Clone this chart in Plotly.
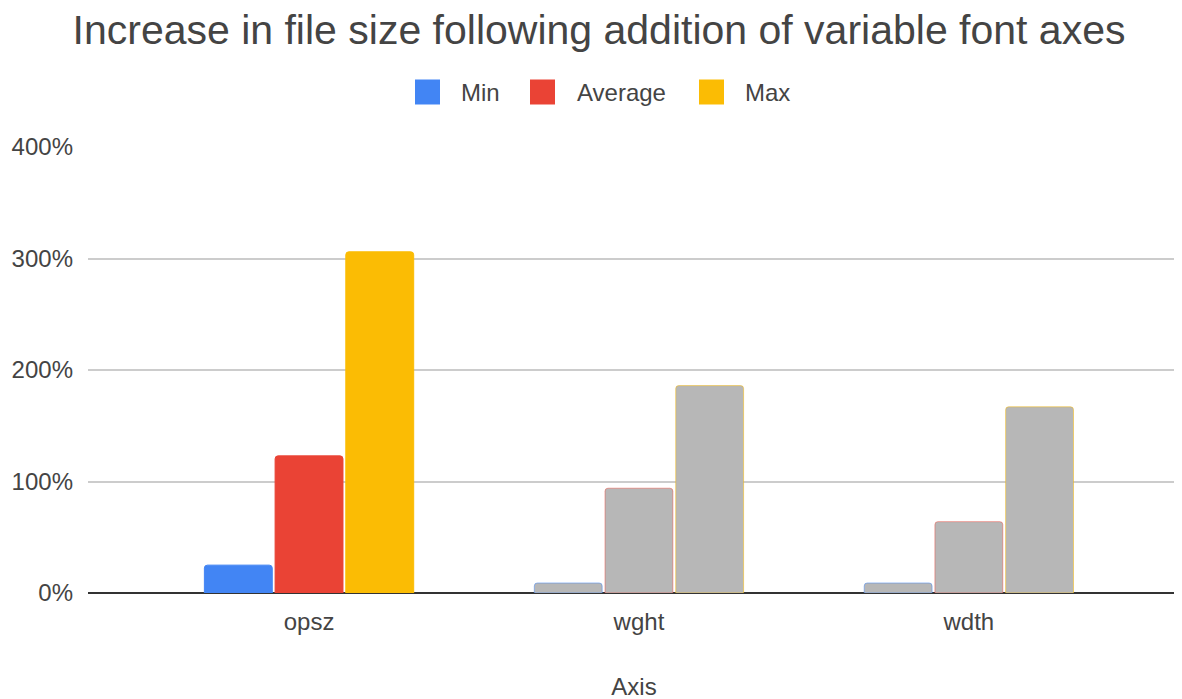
import plotly.graph_objects as go

categories = ["opsz", "wght", "wdth"]
series_names = ["Min", "Average", "Max"]
min_vals = [25, 9, 9]
avg_vals = [123, 94, 64]
max_vals = [306, 186, 167]
tick_vals = [0, 100, 200, 300, 400]
tick_text = ["0%", "100%", "200%", "300%", "400%"]

colors = ["#4285f4", "#ea4335", "#fbbc04"]
faint = ["rgba(66,133,244,0.5)", "rgba(234,67,53,0.45)", "rgba(251,188,4,0.5)"]
grey = "#b7b7b7"

W, H = 1182, 699
ML, MR, MT, MB = 80, 10, 139, 114
PW, PH = W - ML - MR, H - MT - MB


def px2x(px):
    return (px - ML) / PW


def px2y(py):
    return (H - MB - py) / PH


fig = go.Figure()
for name, vals, c, fc in zip(series_names, [min_vals, avg_vals, max_vals], colors, faint):
    fig.add_trace(go.Bar(
        x=categories, y=vals, name=name, showlegend=False,
        marker=dict(color=[c, grey, grey],
                    line=dict(color=[c, fc, fc], width=1)),
        hoverinfo="x+y+name",
    ))

# custom legend (large square swatches)
legend_sq_x = [407, 522, 691]
legend_txt_x = [451, 567, 735]
sq = 25
leg_cy = 84
shapes = []
annotations = []
for name, c, sx, tx in zip(series_names, colors, legend_sq_x, legend_txt_x):
    shapes.append(dict(type="rect", xref="paper", yref="paper",
                       x0=px2x(sx), x1=px2x(sx + sq),
                       y0=px2y(leg_cy + sq / 2), y1=px2y(leg_cy - sq / 2),
                       fillcolor=c, line=dict(width=0), layer="above"))
    annotations.append(dict(text=name, xref="paper", yref="paper",
                            x=px2x(tx), y=px2y(leg_cy), xanchor="left", yanchor="middle",
                            showarrow=False, font=dict(size=24, color="#444444")))

FONT = "Arial, 'Liberation Sans', sans-serif"
fig.update_layout(
    width=W, height=H,
    paper_bgcolor="white", plot_bgcolor="white",
    font=dict(family=FONT, color="#444444", size=24),
    title=dict(text="Increase in file size following addition of variable font axes",
               x=0.5, xanchor="center", y=0.969, yanchor="middle",
               font=dict(size=41, color="#444444", family=FONT)),
    showlegend=False,
    shapes=shapes, annotations=annotations,
    margin=dict(l=ML, r=MR, t=MT, b=MB),
    barmode="group", bargap=0.357, bargroupgap=0.04, barcornerradius=3,
    xaxis=dict(range=[-0.67, 2.64], showgrid=False, zeroline=False, showline=False,
               ticks="", tickfont=dict(size=24, color="#444444"), automargin=False,
               ticklabelstandoff=12,
               title=dict(text="Axis", font=dict(size=24, color="#444444"), standoff=44)),
    yaxis=dict(range=[0, 400], tickvals=tick_vals, ticktext=tick_text,
               showgrid=True, gridcolor="#cccccc", gridwidth=1.5,
               zeroline=True, zerolinecolor="#333333", zerolinewidth=2,
               ticks="", ticklabelstandoff=14, tickfont=dict(size=24, color="#444444"),
               showline=False, automargin=False),
)

fig.write_html("out.html")
